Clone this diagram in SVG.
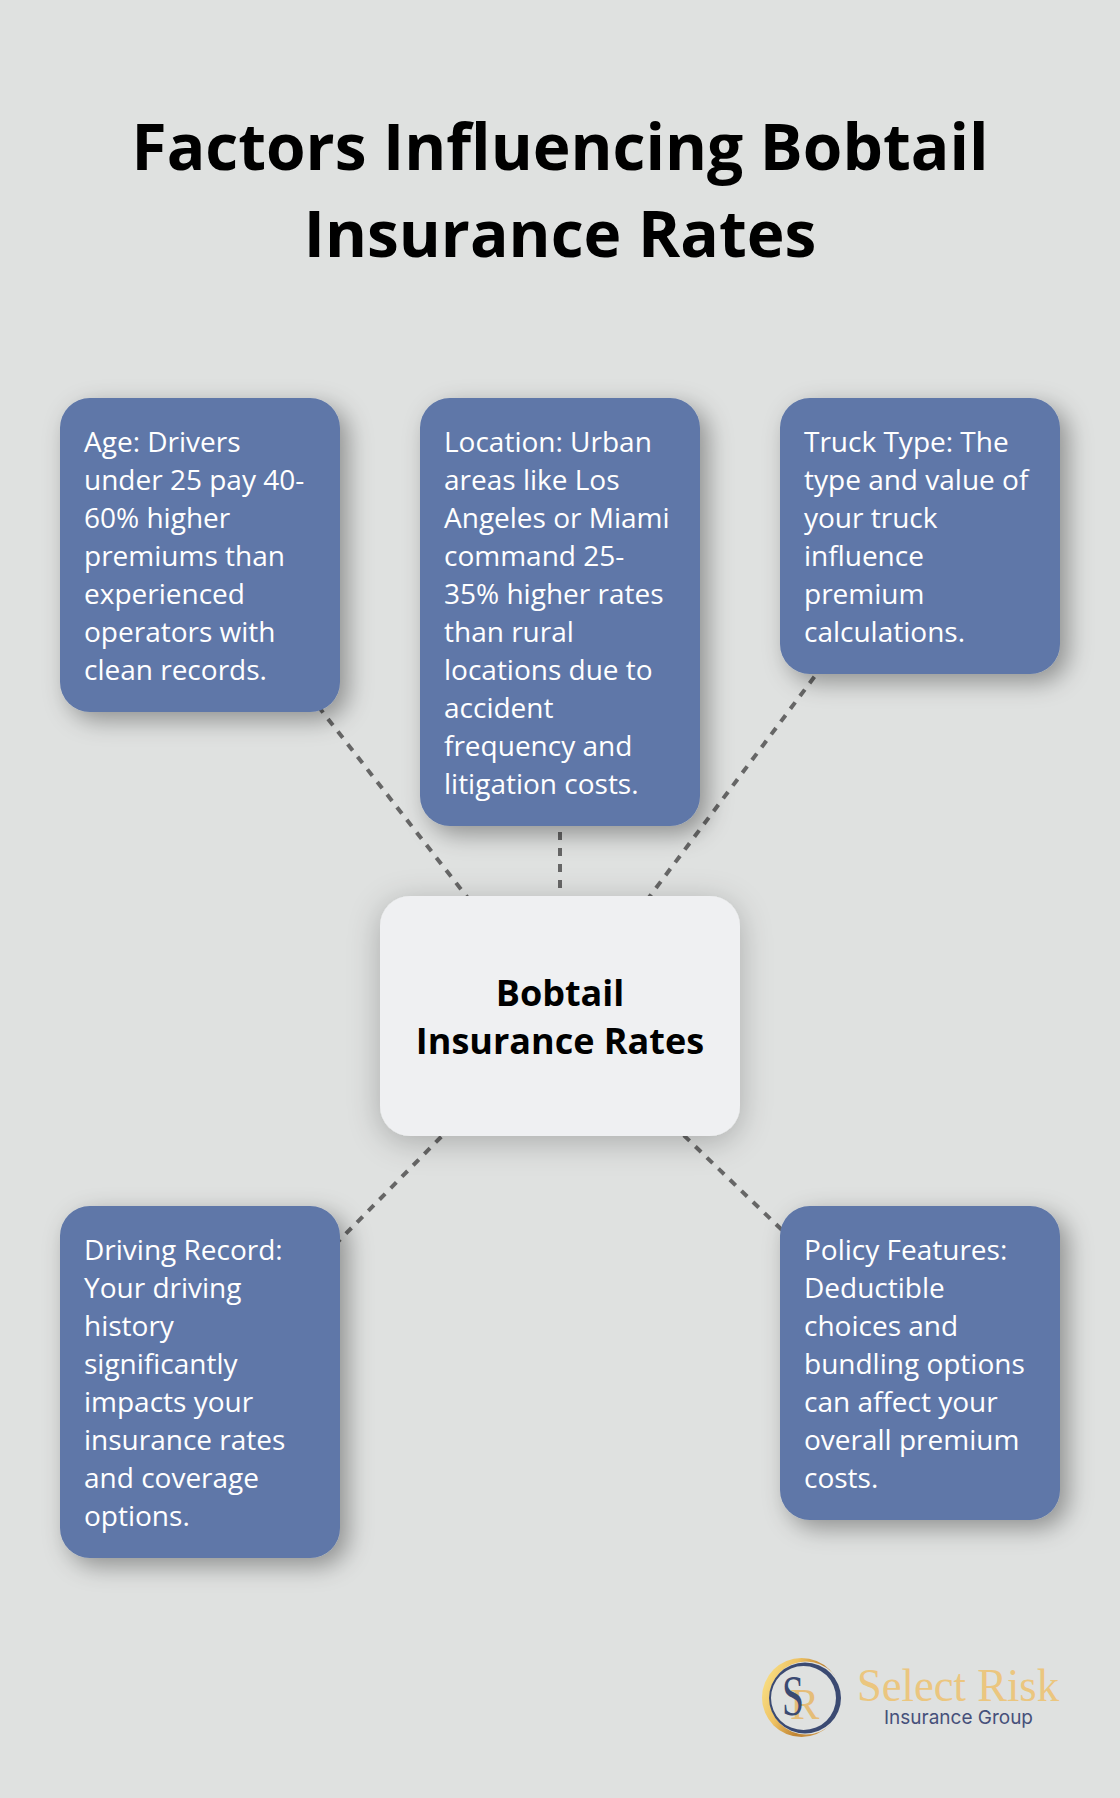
<svg xmlns="http://www.w3.org/2000/svg" width="1120" height="1798" viewBox="0 0 1120 1798">
<style>
.t{font-family:"Open Sans","Noto Sans",sans-serif;}
.title{font-size:64px;font-weight:700;fill:#000;text-anchor:middle;}
.body{font-size:28px;fill:#fff;}
.center{font-size:36px;font-weight:700;fill:#000;text-anchor:middle;}
.box{fill:#5e77a8;filter:url(#sh);}
.cbox{fill:#eff0f2;filter:url(#shc);}
.conn line{stroke:#666;stroke-width:4;stroke-dasharray:8 8;fill:none;}
</style>
<defs>
<filter id="sh" x="-25%" y="-25%" width="160%" height="160%"><feDropShadow dx="8" dy="8" stdDeviation="12" flood-color="#000" flood-opacity="0.36"/></filter>
<filter id="shc" x="-25%" y="-30%" width="150%" height="170%"><feDropShadow dx="0" dy="6" stdDeviation="16" flood-color="#000" flood-opacity="0.24"/></filter>
<linearGradient id="gold" x1="0" y1="0.3" x2="1" y2="0.7"><stop offset="0" stop-color="#f8de83"/><stop offset="0.3" stop-color="#eec263"/><stop offset="0.6" stop-color="#bf8332"/><stop offset="1" stop-color="#d9a75c"/></linearGradient>
</defs>
<rect id="background" width="1120" height="1798" fill="#dfe1e0"/>
<g id="title"><text class="t title" x="560" y="170">Factors Influencing Bobtail</text><text class="t title" x="560" y="257">Insurance Rates</text></g>
<g id="connectors" class="conn">
<line x1="200" y1="555" x2="560" y2="1016"/>
<line x1="560" y1="608" x2="560" y2="1016"/>
<line x1="920" y1="536" x2="560" y2="1016"/>
<line x1="200" y1="1382" x2="560" y2="1016"/>
<line x1="920" y1="1363" x2="560" y2="1016"/>
</g>
<g id="node-age"><rect class="box" x="60" y="398" width="280" height="314" rx="30"/>
<text class="t body"><tspan x="84" y="452">Age: Drivers</tspan><tspan x="84" y="490">under 25 pay 40-</tspan><tspan x="84" y="528">60% higher</tspan><tspan x="84" y="566">premiums than</tspan><tspan x="84" y="604">experienced</tspan><tspan x="84" y="642">operators with</tspan><tspan x="84" y="680">clean records.</tspan></text></g>
<g id="node-location"><rect class="box" x="420" y="398" width="280" height="428" rx="30"/>
<text class="t body"><tspan x="444" y="452">Location: Urban</tspan><tspan x="444" y="490">areas like Los</tspan><tspan x="444" y="528">Angeles or Miami</tspan><tspan x="444" y="566">command 25-</tspan><tspan x="444" y="604">35% higher rates</tspan><tspan x="444" y="642">than rural</tspan><tspan x="444" y="680">locations due to</tspan><tspan x="444" y="718">accident</tspan><tspan x="444" y="756">frequency and</tspan><tspan x="444" y="794">litigation costs.</tspan></text></g>
<g id="node-truck"><rect class="box" x="780" y="398" width="280" height="276" rx="30"/>
<text class="t body"><tspan x="804" y="452">Truck Type: The</tspan><tspan x="804" y="490">type and value of</tspan><tspan x="804" y="528">your truck</tspan><tspan x="804" y="566">influence</tspan><tspan x="804" y="604">premium</tspan><tspan x="804" y="642">calculations.</tspan></text></g>
<g id="node-center"><rect class="cbox" x="380" y="896" width="360" height="240" rx="30"/>
<text class="t center"><tspan x="560" y="1006">Bobtail</tspan><tspan x="560" y="1054">Insurance Rates</tspan></text></g>
<g id="node-record"><rect class="box" x="60" y="1206" width="280" height="352" rx="30"/>
<text class="t body"><tspan x="84" y="1260">Driving Record:</tspan><tspan x="84" y="1298">Your driving</tspan><tspan x="84" y="1336">history</tspan><tspan x="84" y="1374">significantly</tspan><tspan x="84" y="1412">impacts your</tspan><tspan x="84" y="1450">insurance rates</tspan><tspan x="84" y="1488">and coverage</tspan><tspan x="84" y="1526">options.</tspan></text></g>
<g id="node-policy"><rect class="box" x="780" y="1206" width="280" height="314" rx="30"/>
<text class="t body"><tspan x="804" y="1260">Policy Features:</tspan><tspan x="804" y="1298">Deductible</tspan><tspan x="804" y="1336">choices and</tspan><tspan x="804" y="1374">bundling options</tspan><tspan x="804" y="1412">can affect your</tspan><tspan x="804" y="1450">overall premium</tspan><tspan x="804" y="1488">costs.</tspan></text></g>
<g id="logo">
<circle cx="801.5" cy="1697.5" r="39.5" fill="url(#gold)"/>
<circle cx="806" cy="1698" r="36.5" fill="#dfe1e0"/>
<path d="M769 1698a36 35.500 0 1 0 72 0a36 35.500 0 1 0-72 0ZM771 1698a32.500 32 0 1 1 65 0a32.500 32 0 1 1-65 0Z" fill="#3b4a72" fill-rule="evenodd"/>
<text x="790" y="1719" font-family="'Liberation Serif',serif" font-size="44" fill="#e5bd78">R</text>
<text x="782" y="1715" font-family="'Liberation Serif',serif" font-size="56" fill="#3b4a72" textLength="22" lengthAdjust="spacingAndGlyphs">S</text>
<text x="857" y="1701" font-family="'Liberation Serif',serif" font-size="47" fill="#ebc67f" textLength="202" lengthAdjust="spacingAndGlyphs">Select Risk</text>
<text x="884" y="1724" font-family="Inter,'Noto Sans',sans-serif" font-size="19" fill="#46507a" textLength="149" lengthAdjust="spacingAndGlyphs">Insurance Group</text>
</g>
</svg>
